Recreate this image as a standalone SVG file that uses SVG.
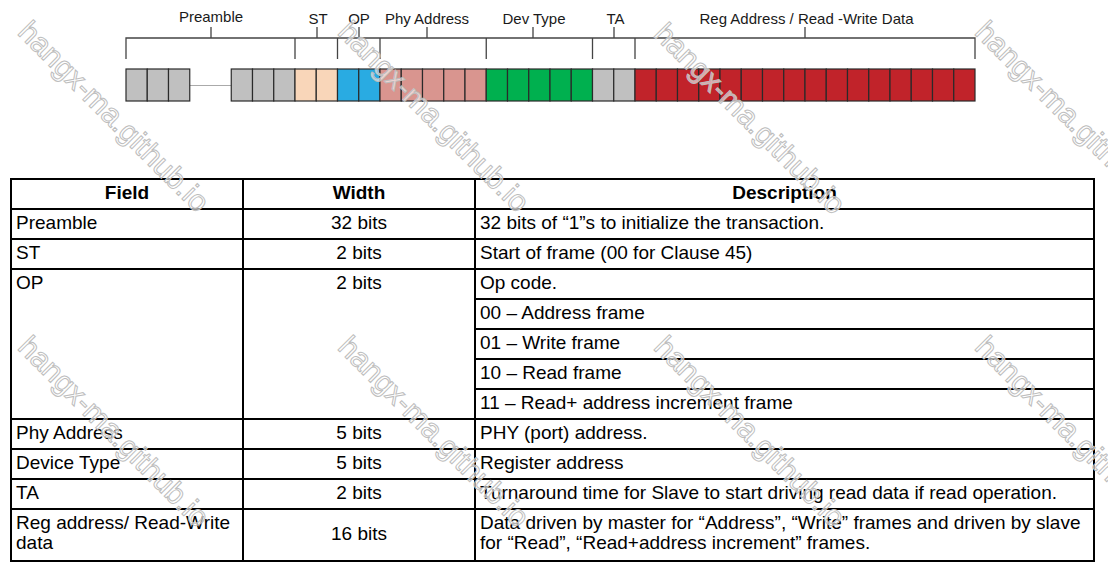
<svg xmlns="http://www.w3.org/2000/svg" width="1108" height="571" viewBox="0 0 1108 571">
  <style>
    .lbl { font-family: "Liberation Sans", Arial, sans-serif; font-size: 15px; fill: #1a1a1a; text-anchor: middle; }
    .brk { stroke: #444; stroke-width: 1.3; fill: none; }
    .bit { stroke: #2a2a2a; stroke-width: 1.2; }
    .g { fill: #c0c0c0; }
    .st { fill: #f9d6b9; }
    .op { fill: #29abe2; }
    .phy { fill: #d9958f; }
    .dev { fill: #00b04f; }
    .reg { fill: #c1232a; }
    .cell { font-family: "Liberation Sans", Arial, sans-serif; font-size: 19px; fill: #000; }
    .hd { font-weight: bold; text-anchor: middle; }
    .mid { text-anchor: middle; }
    .grid { stroke: #000; stroke-width: 2; fill: none; }
    .wm { font-family: "Liberation Sans", Arial, sans-serif; font-size: 30px; fill: #fff; fill-opacity: 0.6; stroke: #bdbdbd; stroke-width: 1; }
  </style>

  <!-- field brackets above the frame -->
  <g id="brackets" class="brk">
    <path d="M126 59V38H975V59M295 38V59M337.5 38V59M380 38V59M486.25 38V59M592.5 38V59M635 38V59"/>
    <path d="M211 27V38M317 27V38M359 27V38M427 27V38M533 27V38M614 27V38M805 27V38"/>
  </g>

  <g id="labels">
    <text class="lbl" x="211" y="22">Preamble</text>
    <text class="lbl" x="318" y="24">ST</text>
    <text class="lbl" x="359" y="24">OP</text>
    <text class="lbl" x="427" y="24">Phy Address</text>
    <text class="lbl" x="534" y="24">Dev Type</text>
    <text class="lbl" x="615.5" y="24">TA</text>
    <text class="lbl" x="806.5" y="24">Reg Address / Read -Write Data</text>
  </g>

  <!-- frame bits -->
  <g id="preamble" class="bit">
    <line x1="189.75" y1="85.5" x2="231.25" y2="85.5" stroke="#aaa" stroke-width="1.2"/>
    <rect class="g" x="126" y="69" width="21.25" height="32"/>
    <rect class="g" x="147.25" y="69" width="21.25" height="32"/>
    <rect class="g" x="168.5" y="69" width="21.25" height="32"/>
    <rect class="g" x="231.25" y="69" width="21.25" height="32"/>
    <rect class="g" x="252.5" y="69" width="21.25" height="32"/>
    <rect class="g" x="273.75" y="69" width="21.25" height="32"/>
  </g>
  <g id="st" class="bit">
    <rect class="st" x="295" y="69" width="21.25" height="32"/>
    <rect class="st" x="316.25" y="69" width="21.25" height="32"/>
  </g>
  <g id="op" class="bit">
    <rect class="op" x="337.5" y="69" width="21.25" height="32"/>
    <rect class="op" x="358.75" y="69" width="21.25" height="32"/>
  </g>
  <g id="phy-address" class="bit">
    <rect class="phy" x="380" y="69" width="21.25" height="32"/>
    <rect class="phy" x="401.25" y="69" width="21.25" height="32"/>
    <rect class="phy" x="422.5" y="69" width="21.25" height="32"/>
    <rect class="phy" x="443.75" y="69" width="21.25" height="32"/>
    <rect class="phy" x="465" y="69" width="21.25" height="32"/>
  </g>
  <g id="dev-type" class="bit">
    <rect class="dev" x="486.25" y="69" width="21.25" height="32"/>
    <rect class="dev" x="507.5" y="69" width="21.25" height="32"/>
    <rect class="dev" x="528.75" y="69" width="21.25" height="32"/>
    <rect class="dev" x="550" y="69" width="21.25" height="32"/>
    <rect class="dev" x="571.25" y="69" width="21.25" height="32"/>
  </g>
  <g id="ta" class="bit">
    <rect class="g" x="592.5" y="69" width="21.25" height="32"/>
    <rect class="g" x="613.75" y="69" width="21.25" height="32"/>
  </g>
  <g id="reg-data" class="bit">
    <rect class="reg" x="635" y="69" width="21.25" height="32"/>
    <rect class="reg" x="656.25" y="69" width="21.25" height="32"/>
    <rect class="reg" x="677.5" y="69" width="21.25" height="32"/>
    <rect class="reg" x="698.75" y="69" width="21.25" height="32"/>
    <rect class="reg" x="720" y="69" width="21.25" height="32"/>
    <rect class="reg" x="741.25" y="69" width="21.25" height="32"/>
    <rect class="reg" x="762.5" y="69" width="21.25" height="32"/>
    <rect class="reg" x="783.75" y="69" width="21.25" height="32"/>
    <rect class="reg" x="805" y="69" width="21.25" height="32"/>
    <rect class="reg" x="826.25" y="69" width="21.25" height="32"/>
    <rect class="reg" x="847.5" y="69" width="21.25" height="32"/>
    <rect class="reg" x="868.75" y="69" width="21.25" height="32"/>
    <rect class="reg" x="890" y="69" width="21.25" height="32"/>
    <rect class="reg" x="911.25" y="69" width="21.25" height="32"/>
    <rect class="reg" x="932.5" y="69" width="21.25" height="32"/>
    <rect class="reg" x="953.75" y="69" width="21.25" height="32"/>
  </g>

  <!-- field table -->
  <g id="table-grid" class="grid">
    <rect x="11" y="179" width="1083" height="382"/>
    <path d="M243 179V561M475 179V561"/>
    <path d="M11 209H1094M11 239H1094M11 269H1094M11 419H1094M11 449H1094M11 479H1094M11 509H1094"/>
    <path d="M475 299H1094M475 329H1094M475 359H1094M475 389H1094"/>
  </g>

  <g id="table-header" class="cell">
    <text class="hd" x="127" y="199">Field</text>
    <text class="hd" x="359" y="199">Width</text>
    <text class="hd" x="784.5" y="199">Description</text>
  </g>
  <g id="row-preamble" class="cell">
    <text x="16" y="229">Preamble</text>
    <text class="mid" x="359" y="229">32 bits</text>
    <text x="480" y="229">32 bits of “1”s to initialize the transaction.</text>
  </g>
  <g id="row-st" class="cell">
    <text x="16" y="259">ST</text>
    <text class="mid" x="359" y="259">2 bits</text>
    <text x="480" y="259">Start of frame (00 for Clause 45)</text>
  </g>
  <g id="row-op" class="cell">
    <text x="16" y="289">OP</text>
    <text class="mid" x="359" y="289">2 bits</text>
    <text x="480" y="289">Op code.</text>
    <text x="480" y="319">00 – Address frame</text>
    <text x="480" y="349">01 – Write frame</text>
    <text x="480" y="379">10 – Read frame</text>
    <text x="480" y="409">11 – Read+ address increment frame</text>
  </g>
  <g id="row-phy" class="cell">
    <text x="16" y="439">Phy Address</text>
    <text class="mid" x="359" y="439">5 bits</text>
    <text x="480" y="439">PHY (port) address.</text>
  </g>
  <g id="row-dev" class="cell">
    <text x="16" y="469">Device Type</text>
    <text class="mid" x="359" y="469">5 bits</text>
    <text x="480" y="469">Register address</text>
  </g>
  <g id="row-ta" class="cell">
    <text x="16" y="499">TA</text>
    <text class="mid" x="359" y="499">2 bits</text>
    <text x="480" y="499">Turnaround time for Slave to start driving read data if read operation.</text>
  </g>
  <g id="row-reg" class="cell">
    <text x="16" y="529">Reg address/ Read-Write</text>
    <text x="16" y="549">data</text>
    <text class="mid" x="359" y="539.5">16 bits</text>
    <text x="480" y="529">Data driven by master for “Address”, “Write” frames and driven by slave</text>
    <text x="480" y="549">for “Read”, “Read+address increment” frames.</text>
  </g>

  <!-- site watermark, tiled -->
  <g id="watermark" class="wm">
    <text x="16.5" y="33.5" transform="rotate(45 16.5 33.5)">hangx-ma.github.io</text>
    <text x="336.5" y="33.5" transform="rotate(45 336.5 33.5)">hangx-ma.github.io</text>
    <text x="652.5" y="35.5" transform="rotate(45 652.5 35.5)">hangx-ma.github.io</text>
    <text x="973.5" y="33.5" transform="rotate(45 973.5 33.5)">hangx-ma.github.io</text>
    <text x="16.5" y="348.5" transform="rotate(45 16.5 348.5)">hangx-ma.github.io</text>
    <text x="336.5" y="348.5" transform="rotate(45 336.5 348.5)">hangx-ma.github.io</text>
    <text x="652.5" y="348.5" transform="rotate(45 652.5 348.5)">hangx-ma.github.io</text>
    <text x="973.5" y="348.5" transform="rotate(45 973.5 348.5)">hangx-ma.github.io</text>
  </g>
</svg>
